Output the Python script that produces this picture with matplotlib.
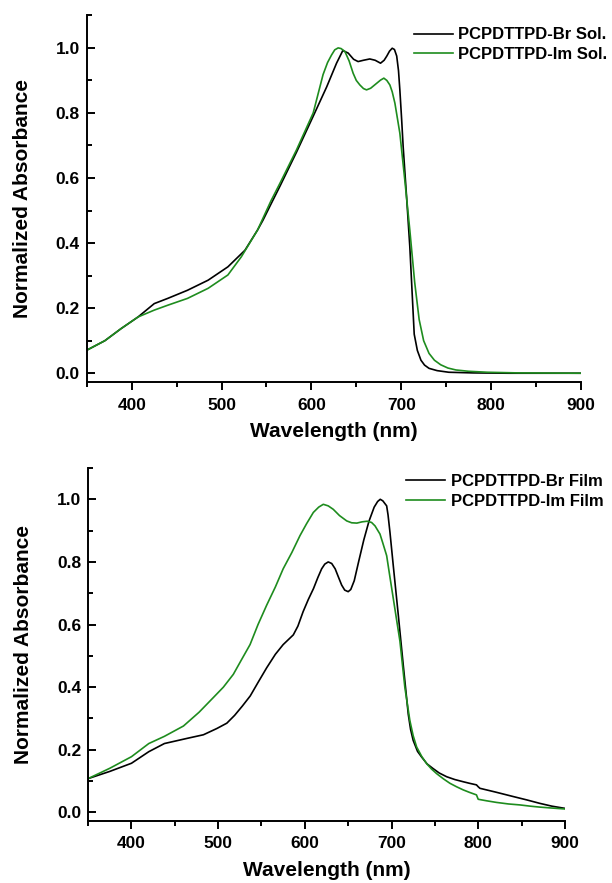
import numpy as np
import matplotlib
matplotlib.use('Agg')
import matplotlib.pyplot as plt
from matplotlib.ticker import MultipleLocator, FormatStrFormatter

#--------------------------------------------------------------------------
#Dados (comprimento de onda em nm, absorbância normalizada)
#--------------------------------------------------------------------------
wl_br_sol = [350, 370, 388, 407, 425, 440, 462, 485, 507, 526, 540, 546, 555,
             565, 583.5, 602, 617, 628, 635, 641, 647, 652, 658, 665, 671,
             677, 681, 684, 687, 690, 692.5, 695, 697, 698.5, 700.5, 702.2,
             706, 709.6, 714.5, 718, 722, 726, 731, 740, 753, 780, 820, 900]
abs_br_sol = [0.071, 0.10, 0.137, 0.173, 0.214, 0.23, 0.255, 0.286, 0.327,
              0.378, 0.44, 0.47, 0.52, 0.575, 0.68, 0.79, 0.88, 0.953, 0.992,
              0.984, 0.965, 0.958, 0.962, 0.966, 0.962, 0.953, 0.962, 0.975,
              0.99, 0.999, 0.995, 0.975, 0.93, 0.871, 0.78, 0.696, 0.542,
              0.389, 0.12, 0.07, 0.04, 0.025, 0.015, 0.008, 0.003, 0.001, 0.0,
              0.0]

wl_im_sol = [350, 370, 388, 407, 425, 440, 462, 485, 507, 522, 540, 555, 565,
             583.5, 602, 613, 618, 622.4, 626, 629.8, 633, 637.3, 642, 646.5,
             650, 654, 658, 661.4, 666, 672.6, 677, 680.7, 684, 687.4, 690,
             693, 698.5, 704, 709.6, 715, 720, 725, 731, 737, 744, 752, 761,
             775, 796, 830, 900]
abs_im_sol = [0.071, 0.10, 0.137, 0.173, 0.194, 0.209, 0.23, 0.261, 0.302,
              0.358, 0.44, 0.53, 0.584, 0.687, 0.80, 0.918, 0.955, 0.978,
              0.994, 1.0, 0.998, 0.989, 0.96, 0.922, 0.90, 0.886, 0.875,
              0.871, 0.876, 0.891, 0.901, 0.907, 0.90, 0.886, 0.865, 0.83,
              0.738, 0.594, 0.44, 0.28, 0.165, 0.10, 0.061, 0.04, 0.026, 0.016,
              0.01, 0.006, 0.003, 0.001, 0.0]

wl_br_film = [350, 375, 400, 420, 438, 465, 483, 498.5, 510, 519, 528, 537,
              546, 556, 566, 575, 586.7, 592, 598, 604, 610, 615, 619.4, 623,
              627, 631, 635, 639, 642.5, 646, 650, 653, 657, 662, 668, 674,
              680, 684, 687, 690, 694.4, 696, 698.2, 702, 707.8, 713.5, 719.3,
              722, 725, 730, 734.7, 741, 748, 755, 763.6, 773, 782.7, 790, 798,
              800, 802, 820, 840, 856, 871, 885, 900]
abs_br_film = [0.108, 0.131, 0.157, 0.194, 0.22, 0.237, 0.248, 0.268, 0.285,
               0.31, 0.34, 0.372, 0.415, 0.462, 0.505, 0.536, 0.567, 0.595,
               0.641, 0.68, 0.715, 0.75, 0.778, 0.793, 0.80, 0.795, 0.778,
               0.75, 0.726, 0.71, 0.705, 0.712, 0.74, 0.80, 0.87, 0.93, 0.975,
               0.993, 1.0, 0.995, 0.979, 0.95, 0.895, 0.789, 0.631, 0.472,
               0.314, 0.265, 0.23, 0.195, 0.177, 0.155, 0.14, 0.126, 0.114,
               0.105, 0.098, 0.093, 0.088, 0.082, 0.077, 0.065, 0.051, 0.04,
               0.029, 0.02, 0.013]

wl_im_film = [350, 375, 400, 420, 438, 460, 478, 494.5, 506, 517.5, 527, 536.8,
              546, 556, 566, 575, 585, 594.4, 602, 609.8, 616, 621.3, 627,
              632.8, 640, 648.3, 654, 660, 666, 672, 677, 681, 686.7, 690,
              694.4, 698, 702, 709.7, 715.4, 721.2, 725, 729, 735, 740.5, 746,
              752, 760, 767.4, 775, 782.7, 790, 798, 800, 810, 821, 835, 848,
              860, 871, 885, 900]
abs_im_film = [0.108, 0.141, 0.178, 0.22, 0.243, 0.276, 0.32, 0.367, 0.40,
               0.441, 0.488, 0.536, 0.60, 0.662, 0.72, 0.778, 0.83, 0.884,
               0.922, 0.958, 0.975, 0.984, 0.979, 0.968, 0.948, 0.931, 0.925,
               0.924, 0.928, 0.93, 0.926, 0.915, 0.889, 0.86, 0.82, 0.755,
               0.684, 0.547, 0.399, 0.293, 0.245, 0.209, 0.178, 0.156, 0.139,
               0.124, 0.107, 0.093, 0.082, 0.072, 0.064, 0.056, 0.042, 0.037,
               0.032, 0.027, 0.024, 0.02, 0.017, 0.014, 0.011]

labels_sol = ['PCPDTTPD-Br Sol.', 'PCPDTTPD-Im Sol.']
labels_film = ['PCPDTTPD-Br Film', 'PCPDTTPD-Im Film']

#--------------------------------------------------------------------------
#Estilo
#--------------------------------------------------------------------------
plt.rcParams['font.family'] = ['Liberation Sans', 'DejaVu Sans']
plt.rcParams['font.weight'] = 'bold'
verde = '#1e8c1e'
preto = '#000000'


def formata_eixo(ax):
    ax.set_xlim(350, 900)
    ax.set_ylim(-0.028, 1.1)
    for lado in ['top', 'right']:
        ax.spines[lado].set_visible(False)
    for lado in ['left', 'bottom']:
        ax.spines[lado].set_linewidth(1.4)
    ax.xaxis.set_major_locator(MultipleLocator(100))
    ax.xaxis.set_minor_locator(MultipleLocator(50))
    ax.yaxis.set_major_locator(MultipleLocator(0.2))
    ax.yaxis.set_minor_locator(MultipleLocator(0.1))
    ax.set_xticks(np.arange(400, 901, 100))
    ax.tick_params(axis='x', which='major', direction='out', length=6,
                   width=1.4, labelsize=12.5, pad=5)
    ax.tick_params(axis='x', which='minor', direction='out', length=3.5,
                   width=1.4)
    ax.tick_params(axis='y', which='major', direction='in', length=6,
                   width=1.4, labelsize=12.5, pad=5)
    ax.tick_params(axis='y', which='minor', direction='in', length=3.5,
                   width=1.4)
    ax.yaxis.set_major_formatter(FormatStrFormatter('%.1f'))
    for t in ax.get_xticklabels() + ax.get_yticklabels():
        t.set_fontweight('bold')
    ax.set_xlabel('Wavelength (nm)', fontsize=15, fontweight='bold',
                  labelpad=7)
    ax.set_ylabel('Normalized Absorbance', fontsize=15, fontweight='bold',
                  labelpad=17)


#--------------------------------------------------------------------------
#Figura
#--------------------------------------------------------------------------
fig = plt.figure(figsize=(6.12, 8.83), dpi=100)

ax1 = fig.add_axes([0.142, 0.567, 0.807, 0.4156])
ax1.plot(wl_br_sol, abs_br_sol, color=preto, lw=1.2, label=labels_sol[0])
ax1.plot(wl_im_sol, abs_im_sol, color=verde, lw=1.2, label=labels_sol[1])
formata_eixo(ax1)
ax1.legend(loc='upper left', bbox_to_anchor=(0.677, 0.969),
           bbox_transform=fig.transFigure, frameon=False, fontsize=12,
           handlelength=2.3, handletextpad=0.35, labelspacing=0.25,
           borderpad=0, borderaxespad=0)

ax2 = fig.add_axes([0.144, 0.070, 0.779, 0.400])
ax2.plot(wl_br_film, abs_br_film, color=preto, lw=1.2, label=labels_film[0])
ax2.plot(wl_im_film, abs_im_film, color=verde, lw=1.2, label=labels_film[1])
formata_eixo(ax2)
ax2.legend(loc='upper left', bbox_to_anchor=(0.664, 0.463),
           bbox_transform=fig.transFigure, frameon=False, fontsize=12,
           handlelength=2.3, handletextpad=0.35, labelspacing=0.3,
           borderpad=0, borderaxespad=0)

fig.savefig('out.png', dpi=100)
